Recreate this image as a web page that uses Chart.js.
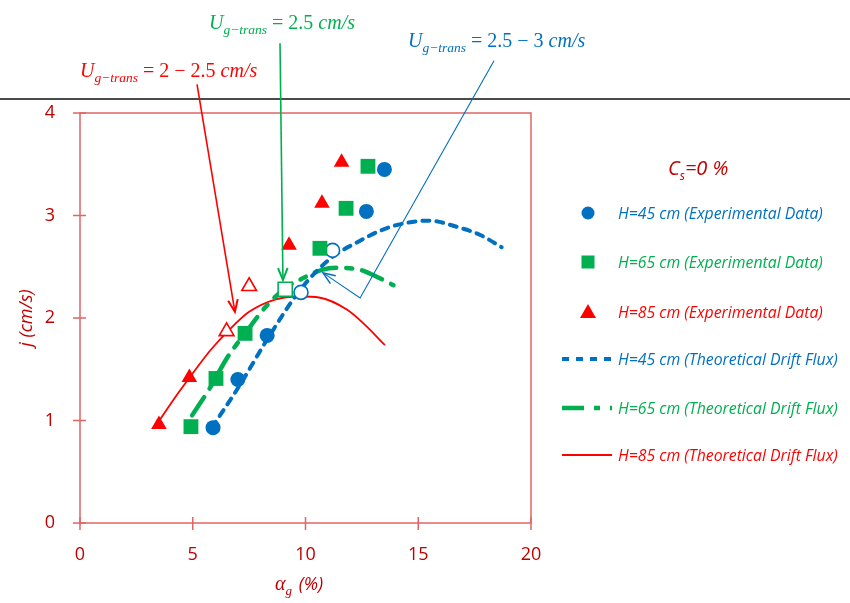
<!DOCTYPE html>
<html>
<head>
<meta charset="utf-8">
<script src="https://cdn.jsdelivr.net/npm/chart.js@4.4.1/dist/chart.umd.min.js"></script>
<style>
  html, body { margin: 0; padding: 0; background: #fff; }
  #wrap { width: 850px; height: 603px; position: relative; }
</style>
</head>
<body>
<div id="wrap"><canvas id="grafico" width="850" height="603"></canvas></div>
<script>
// --- datos ---
const xTicks = [0, 5, 10, 15, 20];
const yTicks = [0, 1, 2, 3, 4];

// experimentales (marcadores llenos)
const h45X = [5.9, 7.0, 8.3, 12.7, 13.5];
const h45Y = [0.93, 1.40, 1.83, 3.04, 3.45];
const h65X = [4.92, 6.03, 7.32, 10.64, 11.8, 12.77];
const h65Y = [0.94, 1.41, 1.85, 2.68, 3.07, 3.48];
const h85X = [3.5, 4.85, 9.27, 10.73, 11.6];
const h85Y = [0.96, 1.42, 2.71, 3.12, 3.52];

// puntos de transición (marcadores huecos)
const h45TransX = [9.8, 11.2];
const h45TransY = [2.25, 2.66];
const h65TransX = [9.1];
const h65TransY = [2.28];
const h85TransX = [6.5, 7.5];
const h85TransY = [1.87, 2.31];

// curvas teóricas drift flux
const teo45X = [5.85, 7.1, 8.3, 9.75, 11.1, 12.3, 13.3, 14.1, 15.5, 16.7, 17.75, 18.7];
const teo45Y = [0.93, 1.35, 1.79, 2.27, 2.58, 2.74, 2.85, 2.91, 2.95, 2.89, 2.81, 2.69];
const teo65X = [4.97, 5.77, 6.52, 7.32, 8.2, 9.1, 9.9, 10.73, 11.44, 12.42, 13.0, 13.9];
const teo65Y = [1.05, 1.32, 1.61, 1.85, 2.1, 2.29, 2.39, 2.47, 2.49, 2.47, 2.42, 2.32];
const teo85X = [3.46, 4.2, 4.9, 5.8, 6.6, 7.5, 8.65, 9.75, 10.6, 11.85, 12.65, 13.5];
const teo85Y = [0.98, 1.22, 1.43, 1.69, 1.88, 2.06, 2.18, 2.21, 2.2, 2.08, 1.93, 1.74];

// flechas de anotación (en unidades de datos): [x, y] ...
const flechaRoja = [[5.19, 4.28], [6.87, 2.06]];
const flechaVerde = [[8.87, 4.68], [9.0, 2.37]];
const flechaAzul = [[18.36, 4.51], [12.42, 2.195], [10.78, 2.44]];

const AZUL = '#0070C0';
const VERDE = '#00B050';
const ROJO = '#FF0000';
const ROJO_OSC = '#C00000';
const EJE = '#E06464';

const pts = (xs, ys) => xs.map((x, i) => ({ x: x, y: ys[i] }));

function marcadores(label, xs, ys, color, estilo, radio, hueco) {
    return {
        label: label,
        data: pts(xs, ys),
        showLine: false,
        pointStyle: estilo,
        pointRadius: radio,
        pointHoverRadius: radio,
        pointBackgroundColor: hueco ? '#FFFFFF' : color,
        pointBorderColor: color,
        pointBorderWidth: hueco ? 1.6 : 0,
        order: 0
    };
}

function curva(label, xs, ys, color, ancho, dash) {
    return {
        label: label,
        data: pts(xs, ys),
        showLine: true,
        borderColor: color,
        borderWidth: ancho,
        borderDash: dash,
        borderCapStyle: 'round',
        cubicInterpolationMode: 'monotone',
        pointRadius: 0,
        pointHoverRadius: 0,
        order: 2
    };
}

const datasets = [
    curva('H=45 cm (Theoretical Drift Flux)', teo45X, teo45Y, AZUL, 4, [7, 7]),
    curva('H=65 cm (Theoretical Drift Flux)', teo65X, teo65Y, VERDE, 4.5, [22, 10, 6, 10]),
    curva('H=85 cm (Theoretical Drift Flux)', teo85X, teo85Y, ROJO, 1.8, []),
    marcadores('H=45 cm (Experimental Data)', h45X, h45Y, AZUL, 'circle', 7.5, false),
    marcadores('H=65 cm (Experimental Data)', h65X, h65Y, VERDE, 'rect', 10.5, false),
    marcadores('H=85 cm (Experimental Data)', h85X, h85Y, ROJO, 'triangle', 9, false),
    marcadores('h45 trans', h45TransX, h45TransY, AZUL, 'circle', 7, true),
    marcadores('h65 trans', h65TransX, h65TransY, VERDE, 'rect', 10, true),
    marcadores('h85 trans', h85TransX, h85TransY, ROJO, 'triangle', 8.5, true)
];

// texto tipo ecuación: U_{g-trans} = ...
function escribirU(ctx, x, y, color, medio) {
    const partes = [
        ['U', 'italic 20px "Liberation Serif"', 0],
        ['g\u2212trans', 'italic 13.5px "Liberation Serif"', 5],
        [' = ' + medio + ' ', '20px "Liberation Serif"', 0],
        ['cm/s', 'italic 20px "Liberation Serif"', 0]
    ];
    ctx.save();
    ctx.fillStyle = color;
    ctx.textBaseline = 'alphabetic';
    ctx.textAlign = 'left';
    let cx = x;
    partes.forEach(p => {
        ctx.font = p[1];
        ctx.fillText(p[0], cx, y + p[2]);
        cx += ctx.measureText(p[0]).width;
    });
    ctx.restore();
}

function flecha(ctx, chart, puntos, color, ancho) {
    const sx = chart.scales.x, sy = chart.scales.y;
    const px = puntos.map(p => [sx.getPixelForValue(p[0]), sy.getPixelForValue(p[1])]);
    ctx.save();
    ctx.strokeStyle = color;
    ctx.lineWidth = ancho;
    ctx.beginPath();
    ctx.moveTo(px[0][0], px[0][1]);
    for (let i = 1; i < px.length; i++) ctx.lineTo(px[i][0], px[i][1]);
    ctx.stroke();
    // punta abierta en el último punto
    const a = px[px.length - 2], b = px[px.length - 1];
    const ang = Math.atan2(b[1] - a[1], b[0] - a[0]);
    const L = 13, abre = 0.38;
    ctx.lineWidth = ancho + 0.4;
    ctx.beginPath();
    ctx.moveTo(b[0] - L * Math.cos(ang - abre), b[1] - L * Math.sin(ang - abre));
    ctx.lineTo(b[0], b[1]);
    ctx.lineTo(b[0] - L * Math.cos(ang + abre), b[1] - L * Math.sin(ang + abre));
    ctx.stroke();
    ctx.restore();
}

function marcaLeyenda(ctx, tipo, x, y, color) {
    ctx.save();
    ctx.fillStyle = color;
    ctx.beginPath();
    if (tipo === 'circle') {
        ctx.arc(x, y, 6.5, 0, Math.PI * 2);
    } else if (tipo === 'rect') {
        ctx.rect(x - 6.5, y - 6.5, 13, 13);
    } else {
        ctx.moveTo(x, y - 8);
        ctx.lineTo(x + 8, y + 6);
        ctx.lineTo(x - 8, y + 6);
        ctx.closePath();
    }
    ctx.fill();
    ctx.restore();
}

const decoracion = {
    id: 'decoracion',
    beforeDraw(chart) {
        const ctx = chart.ctx;
        ctx.save();
        ctx.fillStyle = '#FFFFFF';
        ctx.fillRect(0, 0, chart.width, chart.height);
        ctx.restore();
    },
    beforeDatasetsDraw(chart) {
        const ctx = chart.ctx;
        const a = chart.chartArea;
        const sx = chart.scales.x, sy = chart.scales.y;
        ctx.save();
        ctx.strokeStyle = EJE;
        ctx.lineWidth = 1.5;
        ctx.strokeRect(a.left, a.top, a.right - a.left, a.bottom - a.top);
        // marcas que cruzan el eje
        ctx.beginPath();
        xTicks.forEach(v => {
            const p = sx.getPixelForValue(v);
            ctx.moveTo(p, a.bottom - 6);
            ctx.lineTo(p, a.bottom + 7);
        });
        yTicks.forEach(v => {
            const p = sy.getPixelForValue(v);
            ctx.moveTo(a.left - 7, p);
            ctx.lineTo(a.left + 6, p);
        });
        ctx.stroke();
        ctx.restore();
    },
    afterDraw(chart) {
        const ctx = chart.ctx;
        ctx.save();

        // línea gris superior
        ctx.strokeStyle = '#4A4A4A';
        ctx.lineWidth = 2;
        ctx.beginPath();
        ctx.moveTo(0, 99);
        ctx.lineTo(chart.width, 99);
        ctx.stroke();

        // títulos de ejes
        ctx.fillStyle = ROJO_OSC;
        ctx.font = 'italic 18px "Open Sans"';
        ctx.textAlign = 'center';
        ctx.textBaseline = 'middle';
        ctx.save();
        ctx.translate(27, 318);
        ctx.rotate(-Math.PI / 2);
        ctx.fillText('j (cm/s)', 0, 0);
        ctx.restore();

        ctx.textAlign = 'left';
        ctx.textBaseline = 'alphabetic';
        ctx.font = 'italic 20px "Liberation Serif"';
        let tx = 275;
        ctx.fillText('\u03B1', tx, 590);
        tx += ctx.measureText('\u03B1').width;
        ctx.font = 'italic 13px "Liberation Serif"';
        ctx.fillText('g', tx, 595);
        tx += ctx.measureText('g').width + 2;
        ctx.font = 'italic 18px "Open Sans"';
        ctx.fillText(' (%)', tx, 590);

        // leyenda
        ctx.font = 'italic 20px "Open Sans"';
        ctx.fillStyle = ROJO_OSC;
        ctx.fillText('C', 668, 175);
        let cw = ctx.measureText('C').width;
        ctx.font = 'italic 12px "Open Sans"';
        ctx.fillText('s', 668 + cw, 180);
        cw += ctx.measureText('s').width;
        ctx.font = 'italic 20px "Open Sans"';
        ctx.fillText('=0 %', 668 + cw, 175);

        const filas = [
            { y: 213, color: AZUL, marca: 'circle', texto: 'H=45 cm (Experimental Data)' },
            { y: 262, color: VERDE, marca: 'rect', texto: 'H=65 cm (Experimental Data)' },
            { y: 312, color: ROJO, marca: 'triangle', texto: 'H=85 cm (Experimental Data)' },
            { y: 359, color: AZUL, linea: 0, texto: 'H=45 cm (Theoretical Drift Flux)' },
            { y: 408, color: VERDE, linea: 1, texto: 'H=65 cm (Theoretical Drift Flux)' },
            { y: 455, color: ROJO, linea: 2, texto: 'H=85 cm (Theoretical Drift Flux)' }
        ];
        filas.forEach(f => {
            if (f.marca) {
                marcaLeyenda(ctx, f.marca, 588, f.y, f.color);
            } else {
                const ds = datasets[f.linea];
                ctx.save();
                ctx.strokeStyle = f.color;
                ctx.lineWidth = ds.borderWidth;
                ctx.setLineDash(ds.borderDash);
                ctx.lineCap = 'butt';
                ctx.beginPath();
                ctx.moveTo(562, f.y);
                ctx.lineTo(612, f.y);
                ctx.stroke();
                ctx.restore();
            }
            ctx.fillStyle = f.color;
            ctx.font = 'italic 15.8px "Open Sans"';
            ctx.textBaseline = 'middle';
            ctx.fillText(f.texto, 618, f.y + 1);
        });
        ctx.textBaseline = 'alphabetic';

        // anotaciones de transición
        escribirU(ctx, 80, 77, ROJO, '2 \u2212 2.5');
        escribirU(ctx, 209, 29, VERDE, '2.5');
        escribirU(ctx, 408, 47, AZUL, '2.5 \u2212 3');

        flecha(ctx, chart, flechaRoja, ROJO, 1.6);
        flecha(ctx, chart, flechaVerde, VERDE, 1.6);
        flecha(ctx, chart, flechaAzul, AZUL, 1.1);

        ctx.restore();
    }
};

new Chart(document.getElementById('grafico'), {
    type: 'scatter',
    data: { datasets: datasets },
    options: {
        responsive: false,
        animation: false,
        events: [],
        layout: { padding: { top: 113, right: 319, left: 0, bottom: 0 } },
        plugins: {
            legend: { display: false },
            tooltip: { enabled: false }
        },
        scales: {
            x: {
                type: 'linear',
                min: xTicks[0],
                max: xTicks[xTicks.length - 1],
                afterBuildTicks: s => { s.ticks = xTicks.map(v => ({ value: v })); },
                afterFit: s => { s.height = 80; },
                grid: { display: false },
                border: { display: false },
                ticks: {
                    color: ROJO_OSC,
                    font: { family: 'Open Sans', size: 18 },
                    padding: 13
                }
            },
            y: {
                type: 'linear',
                min: yTicks[0],
                max: yTicks[yTicks.length - 1],
                afterBuildTicks: s => { s.ticks = yTicks.map(v => ({ value: v })); },
                afterFit: s => { s.width = 80; },
                grid: { display: false },
                border: { display: false },
                ticks: {
                    color: ROJO_OSC,
                    font: { family: 'Open Sans', size: 18 },
                    padding: 17
                }
            }
        }
    },
    plugins: [decoracion]
});
</script>
</body>
</html>
